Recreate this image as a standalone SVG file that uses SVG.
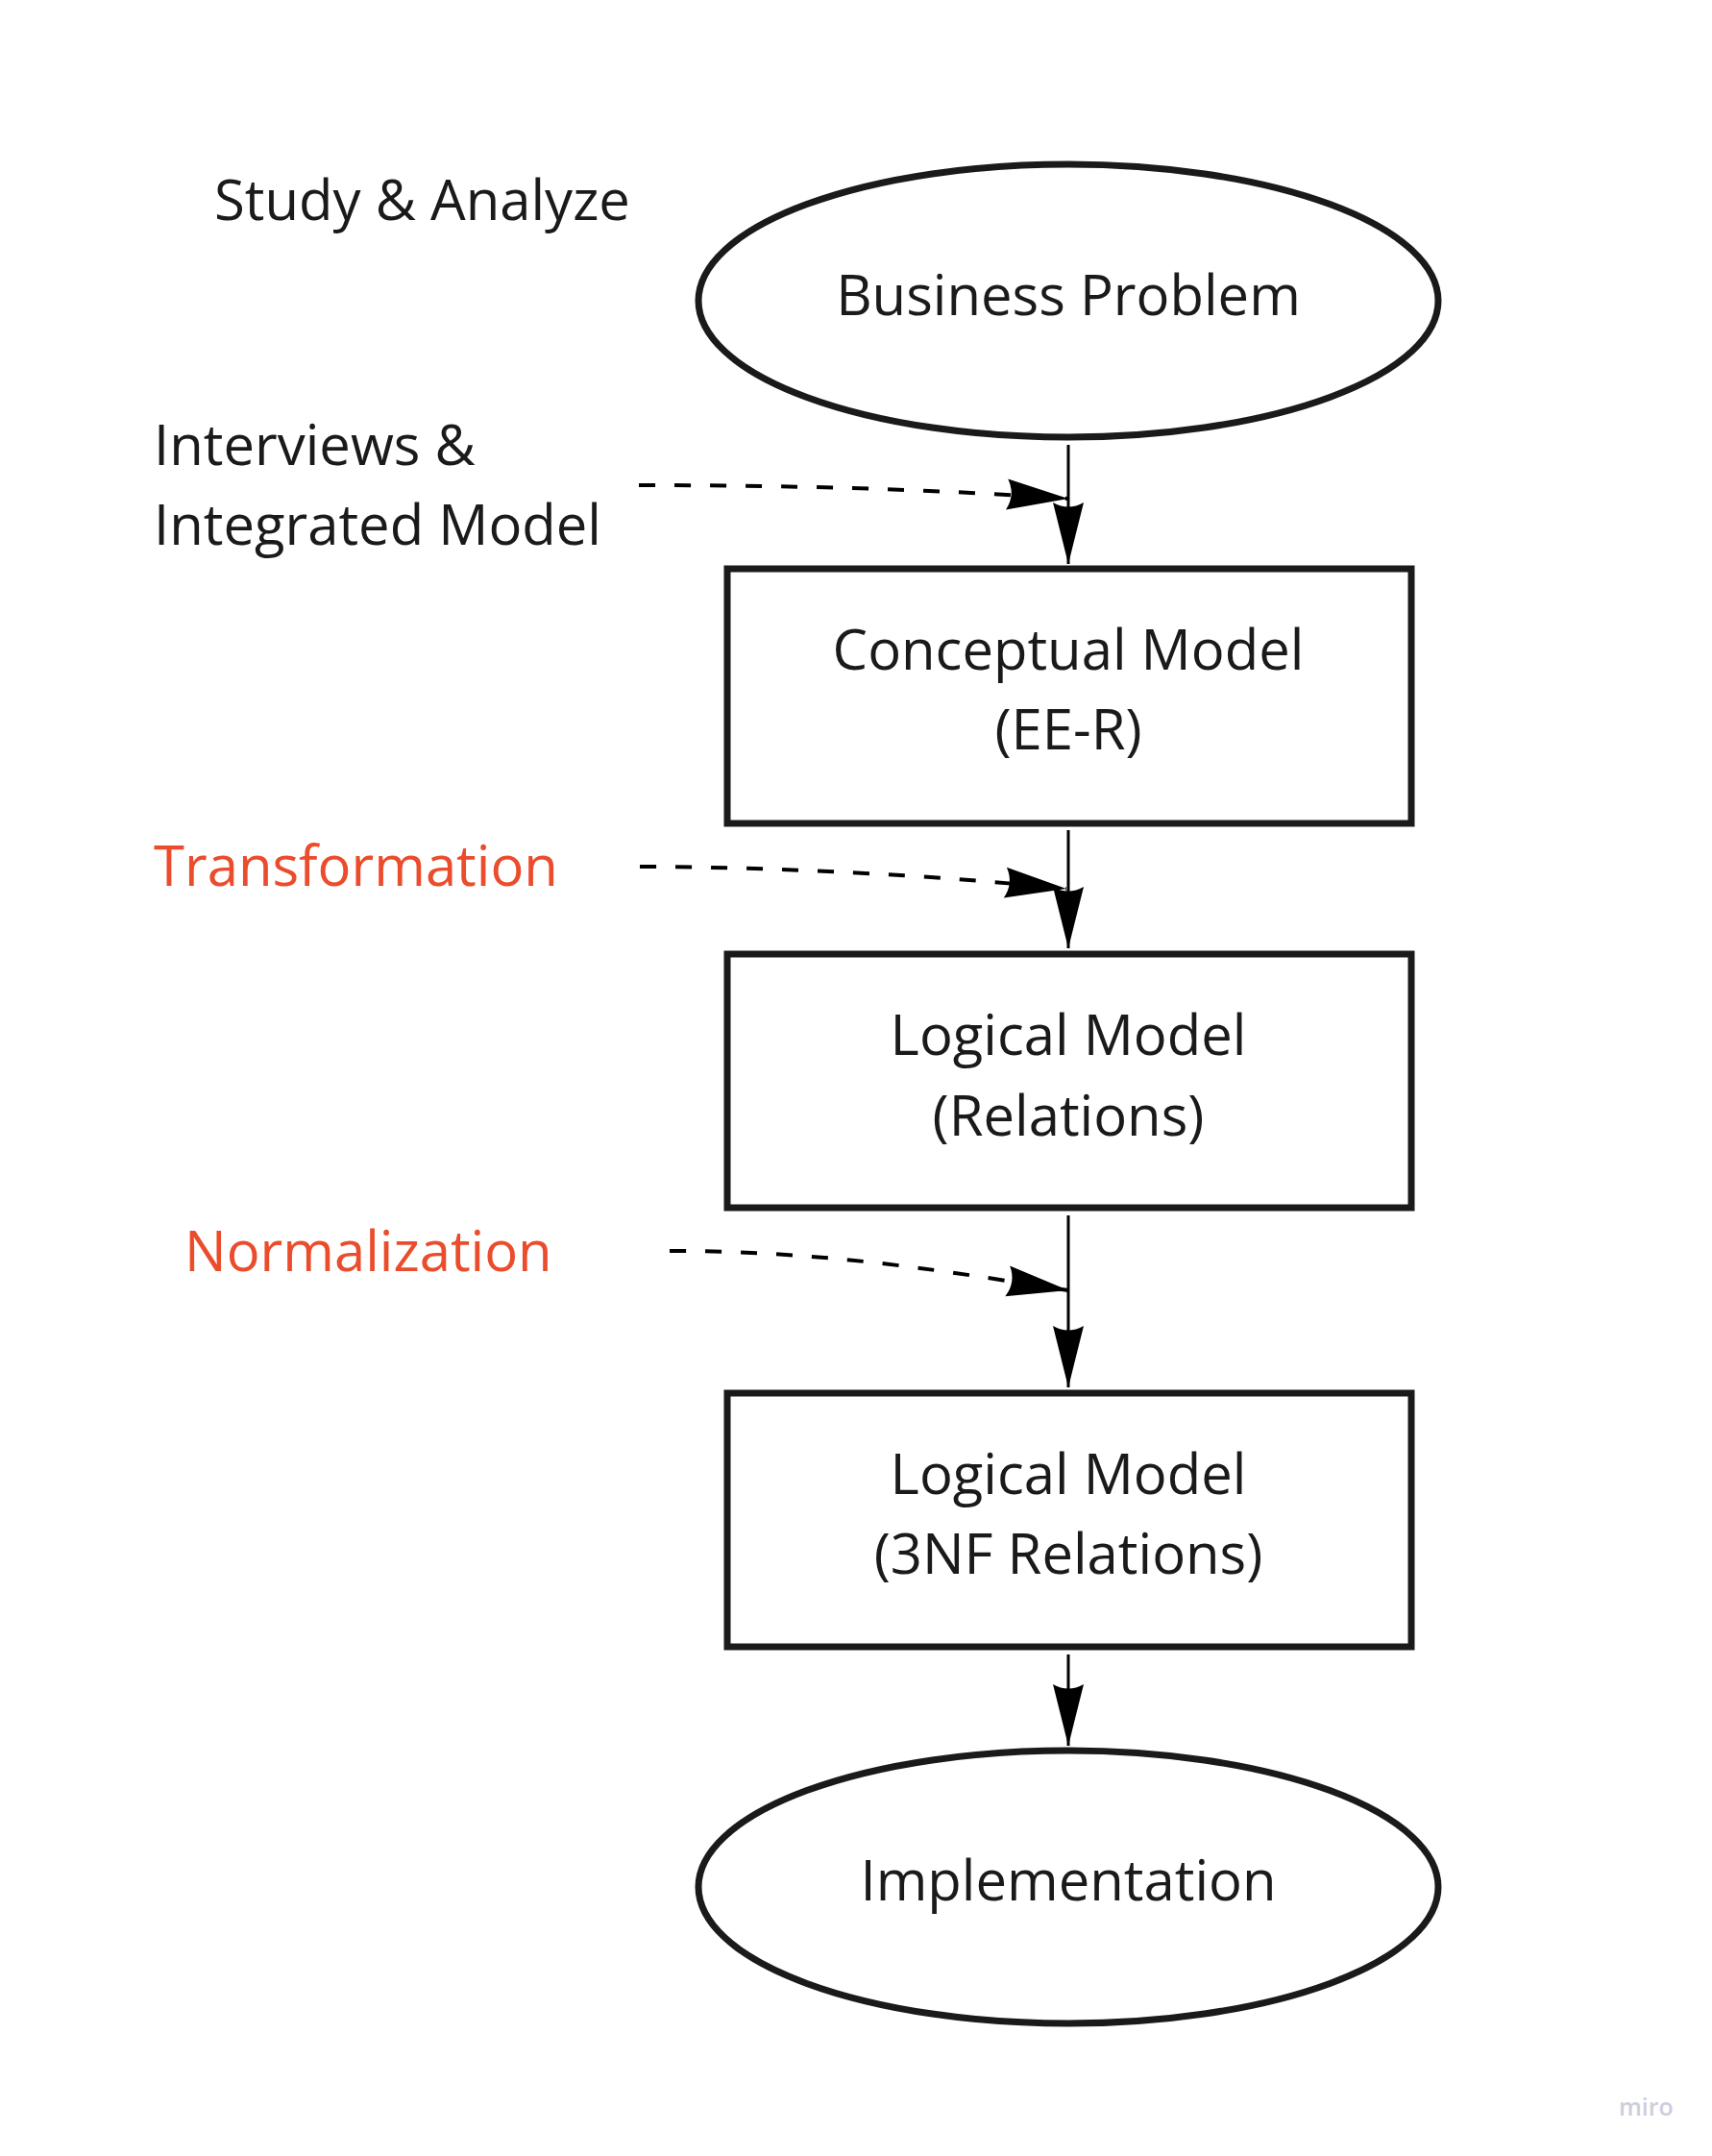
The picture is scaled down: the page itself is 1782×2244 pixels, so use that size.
<svg xmlns="http://www.w3.org/2000/svg" width="1782" height="2244" viewBox="0 0 1782 2244">
<style>
.shape{fill:#ffffff;stroke:#1a1a1a;stroke-width:7}
.lbl{font-family:"Open Sans","Noto Sans","Liberation Sans",sans-serif;font-size:58px;fill:#1a1a1a}
.ctr{text-anchor:middle}
.red{fill:#ea4c2c}
.solid{fill:none;stroke:#000000;stroke-width:3}
.dash{fill:none;stroke:#000000;stroke-width:4;stroke-dasharray:17 20}
.wm{font-family:"Open Sans","Noto Sans",sans-serif;font-size:25px;font-weight:600;fill:#cdcedc}
</style>
<defs>
<marker id="ah" markerUnits="userSpaceOnUse" markerWidth="80" markerHeight="40" viewBox="-70 -20 80 40" refX="0" refY="0" orient="auto" overflow="visible">
<path d="M0,0 L-64,-16 Q-55,0 -64,16 Z" fill="#000000"/>
</marker>
</defs>
<rect width="1782" height="2244" fill="#ffffff"/>
<g id="label-study">
<text class="lbl" x="223" y="229">Study &amp; Analyze</text>
</g>
<g id="node-business-problem">
<ellipse class="shape" cx="1112" cy="313" rx="385" ry="142"/>
<text class="lbl ctr" x="1112" y="328">Business Problem</text>
</g>
<g id="label-interviews">
<text class="lbl" x="160" y="484">Interviews &amp;</text>
<text class="lbl" x="160" y="567">Integrated Model</text>
</g>
<g id="node-conceptual">
<rect class="shape" x="757" y="592" width="712" height="265"/>
<text class="lbl ctr" x="1112" y="697">Conceptual Model</text>
<text class="lbl ctr" x="1112" y="780">(EE-R)</text>
</g>
<g id="label-transformation">
<text class="lbl red" x="160" y="922">Transformation</text>
</g>
<g id="node-logical">
<rect class="shape" x="757" y="993" width="712" height="264"/>
<text class="lbl ctr" x="1112" y="1098">Logical Model</text>
<text class="lbl ctr" x="1112" y="1182">(Relations)</text>
</g>
<g id="label-normalization">
<text class="lbl red" x="192" y="1323">Normalization</text>
</g>
<g id="node-logical-3nf">
<rect class="shape" x="757" y="1450" width="712" height="264"/>
<text class="lbl ctr" x="1112" y="1555">Logical Model</text>
<text class="lbl ctr" x="1112" y="1638">(3NF Relations)</text>
</g>
<g id="node-implementation">
<ellipse class="shape" cx="1112" cy="1964" rx="385" ry="142"/>
<text class="lbl ctr" x="1112" y="1978">Implementation</text>
</g>
<g id="connectors">
<path class="solid" d="M1112,463 L1112,587" marker-end="url(#ah)"/>
<path class="solid" d="M1112,864 L1112,987" marker-end="url(#ah)"/>
<path class="solid" d="M1112,1265 L1112,1444" marker-end="url(#ah)"/>
<path class="solid" d="M1112,1722 L1112,1817" marker-end="url(#ah)"/>
<path class="dash" d="M665,505 C850,505 1000,511 1112,519" marker-end="url(#ah)"/>
<path class="dash" d="M666,902 C850,903 1000,914 1110,925" marker-end="url(#ah)"/>
<path class="dash" d="M697,1302 C870,1302 1000,1326 1112,1343" marker-end="url(#ah)"/>
</g>
<text class="wm" x="1685" y="2202">miro</text>
</svg>
